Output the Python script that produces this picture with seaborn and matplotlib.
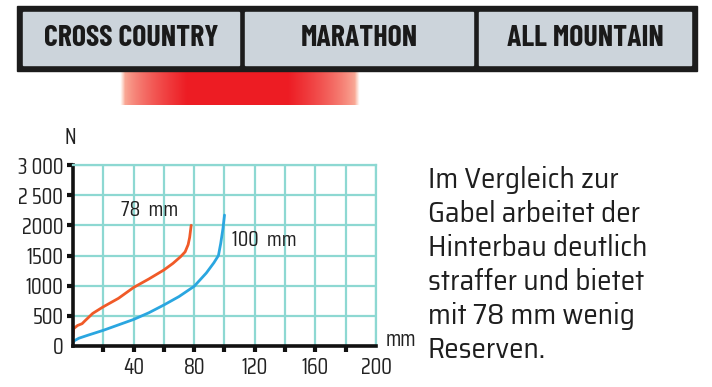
import numpy as np
import pandas as pd
import matplotlib
matplotlib.use("Agg")
import matplotlib.pyplot as plt
import matplotlib.patches as mpatches
import seaborn as sns

# force (N) over travel (mm)
travel_78 = [0, 0.5, 3, 6, 8, 13, 20, 30, 40, 50, 60, 66, 71, 74, 76, 77, 78]
force_78 = [150, 290, 340, 370, 420, 540, 650, 790, 970, 1110, 1260, 1370, 1480, 1560, 1680, 1800, 2000]
travel_100 = [0, 1, 4, 10, 20, 30, 40, 50, 60, 70, 80, 88, 93, 96, 97.5, 99, 100]
force_100 = [50, 90, 130, 180, 260, 350, 440, 550, 680, 820, 990, 1210, 1380, 1500, 1700, 1950, 2170]

categories = ["CROSS COUNTRY", "MARATHON", "ALL MOUNTAIN"]
y_ticks = [0, 500, 1000, 1500, 2000, 2500, 3000]
y_labels = ["0", "500", "1000", "1500", "2000", "2 500", "3 000"]
x_ticks = [20, 40, 60, 80, 100, 120, 140, 160, 180, 200]
x_labels = ["", "40", "", "80", "", "120", "", "160", "", "200"]
caption = ["Im Vergleich zur", "Gabel arbeitet der", "Hinterbau deutlich",
           "straffer und bietet", "mit 78 mm wenig", "Reserven."]

sns.set_style("white")
plt.rcParams['font.family'] = ['Saira Condensed', 'DejaVu Sans']

df = pd.concat([
    pd.DataFrame({"mm": travel_78, "N": force_78, "curve": "78 mm"}),
    pd.DataFrame({"mm": travel_100, "N": force_100, "curve": "100 mm"}),
])

fig = plt.figure(figsize=(7.12, 3.87), dpi=100)

# decoration layer in pixel coords
deco = fig.add_axes([0, 0, 1, 1])
deco.axis("off")

deco.add_patch(mpatches.Rectangle((17, 6), 680, 65, color="#1c1c1c"))
cells = [(23, 216), (245, 228), (479, 212)]
for (x0, w), name in zip(cells, categories):
    deco.add_patch(mpatches.Rectangle((x0, 12), w, 53, color="#ccd4db"))
    deco.text(x0 + w / 2, 39, name, ha="center", va="center", fontsize=21.5,
              fontweight="bold", color="#1a1a1a", family=["Barlow Condensed", "DejaVu Sans"])

# red band under the header, fading to salmon at both ends
u = np.linspace(0, 1, 400)
mix = np.clip(np.minimum(u / 0.28, (1 - u) / 0.3), 0, 1) ** 0.6
red = np.array([0.93, 0.11, 0.14])
edge = np.array([0.99, 0.80, 0.70])
grad = np.ones((1, 400, 4))
grad[0, :, :3] = edge + (red - edge) * mix[:, None]
grad[0, :, 3] = np.clip(np.minimum(u, 1 - u) / 0.02, 0, 1)
deco.imshow(grad, extent=[120, 360, 105, 71], aspect="auto", interpolation="bilinear")
deco.set_xlim(0, 712)
deco.set_ylim(387, 0)

for i, line in enumerate(caption):
    deco.text(428, 188 + 34 * i, line, ha="left", va="baseline", fontsize=21, color="#1e1e1e",
              family=["Saira SemiCondensed", "DejaVu Sans"])

deco.text(70, 137, "N", ha="center", va="center", fontsize=16, color="#222222")
deco.text(401, 340, "mm", ha="center", va="center", fontsize=16, color="#222222")

# chart
ax = fig.add_axes([73 / 712, 41 / 387, 303 / 712, 181 / 387])
sns.lineplot(data=df, x="mm", y="N", hue="curve", palette=["#f05a28", "#2aa6e0"],
             sort=False, estimator=None, linewidth=2, legend=False, ax=ax)
ax.set_xlim(0, 200)
ax.set_ylim(0, 3000)
ax.set_xlabel("")
ax.set_ylabel("")

grid_c = "#8dd8d2"
ax.set_xticks(x_ticks)
ax.set_xticklabels(x_labels)
ax.set_yticks(y_ticks)
ax.set_yticklabels(y_labels)
ax.tick_params(axis="x", direction="out", length=4, width=3, color="#111111", pad=4,
               labelsize=16, labelcolor="#222222", bottom=True)
ax.tick_params(axis="y", direction="out", length=4, width=3, color="#111111", pad=3,
               labelsize=16, labelcolor="#222222", left=True)
ax.xaxis.get_major_ticks()[-1].tick1line.set_visible(False)
ax.yaxis.get_major_ticks()[0].tick1line.set_visible(False)
ax.grid(True, color=grid_c, linewidth=1.6)
ax.set_axisbelow(True)
for side in ["left", "bottom"]:
    ax.spines[side].set_color("#111111")
    ax.spines[side].set_linewidth(2.6)
for side in ["top", "right"]:
    ax.spines[side].set_color(grid_c)
    ax.spines[side].set_linewidth(1.6)

ax.text(32, 2255, "78  mm", ha="left", va="center", fontsize=15.5, color="#222222")
ax.text(105, 1757, "100  mm", ha="left", va="center", fontsize=15.5, color="#222222")

fig.savefig("out.png", dpi=100)
